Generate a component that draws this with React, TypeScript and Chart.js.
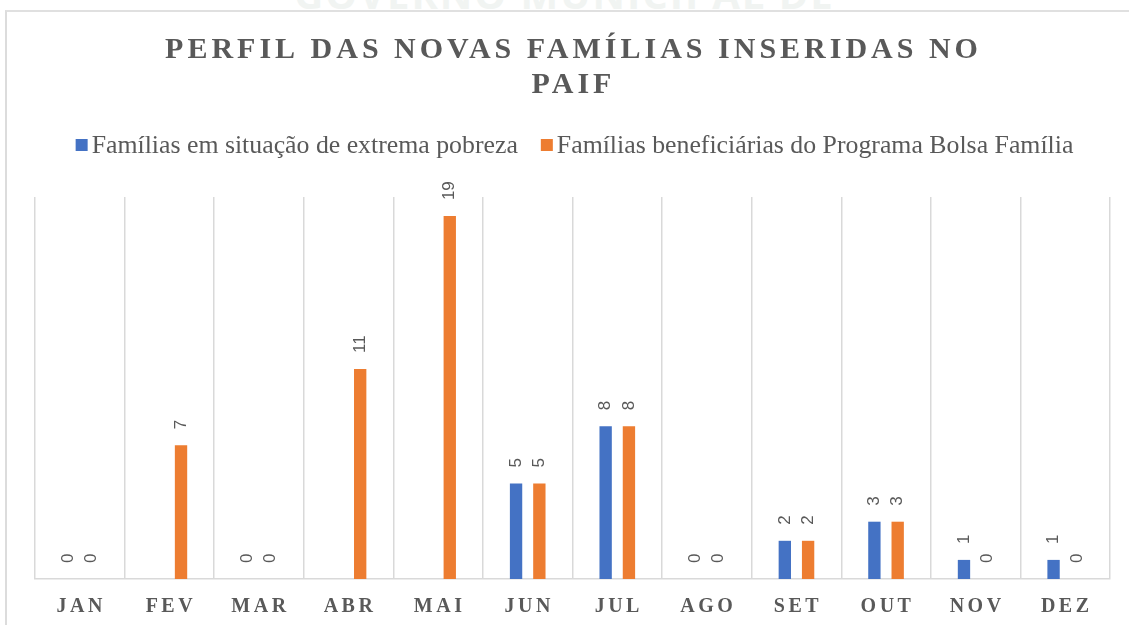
import React, { useEffect, useRef } from "react";
import { Chart, registerables } from "chart.js";

Chart.register(...registerables);

const months = ["JAN", "FEV", "MAR", "ABR", "MAI", "JUN", "JUL", "AGO", "SET", "OUT", "NOV", "DEZ"];
const extremePoverty: (number | null)[] = [0, null, 0, null, null, 5, 8, 0, 2, 3, 1, 1];
const bolsaFamilia: (number | null)[] = [0, 7, 0, 11, 19, 5, 8, 0, 2, 3, 0, 0];
const titleLines = ["PERFIL DAS NOVAS FAMÍLIAS INSERIDAS NO", "PAIF"];
const seriesNames = [
  "Famílias em situação de extrema pobreza",
  "Famílias beneficiárias do Programa Bolsa Família",
];
const seriesColors = ["#4472C4", "#ED7D31"];
const watermark = "GOVERNO MUNICIPAL DE";

const TEXT = "#595959";

const decorPlugin = {
  id: "decor",
  afterDraw(chart: any) {
    const { ctx, chartArea } = chart;
    const cx = (chartArea.left + chartArea.right) / 2;
    ctx.save();
    // Title
    ctx.fillStyle = TEXT;
    ctx.textAlign = "center";
    ctx.textBaseline = "alphabetic";
    ctx.font = 'bold 30px "Liberation Serif"';
    (ctx as any).letterSpacing = "4px";
    titleLines.forEach((t, i) => {
      ctx.fillText(t, cx + 1, 58 + i * 35);
    });
    // Legend
    (ctx as any).letterSpacing = "0px";
    ctx.font = '25.8px "Liberation Serif"';
    const box = 12;
    const gap = 4;
    const itemGap = 23;
    const widths = seriesNames.map((n) => ctx.measureText(n).width);
    const total =
      widths.reduce((a, w) => a + box + gap + w, 0) + itemGap * (seriesNames.length - 1);
    let x = cx - total / 2 + 2;
    ctx.textAlign = "left";
    ctx.textBaseline = "middle";
    seriesNames.forEach((n, i) => {
      ctx.fillStyle = seriesColors[i];
      ctx.fillRect(x, 139, box, box);
      ctx.fillStyle = TEXT;
      ctx.fillText(n, x + box + gap, 146);
      x += box + gap + widths[i] + itemGap;
    });
    // X labels
    const xs = chart.scales.x;
    ctx.font = 'bold 20px "Liberation Serif"';
    (ctx as any).letterSpacing = "3.5px";
    ctx.textAlign = "center";
    ctx.textBaseline = "alphabetic";
    ctx.fillStyle = TEXT;
    months.forEach((m, i) => {
      ctx.fillText(m, xs.getPixelForValue(i) + 1.5, 612);
    });
    // Data labels
    (ctx as any).letterSpacing = "0px";
    ctx.font = '17px "Liberation Sans"';
    ctx.fillStyle = TEXT;
    chart.data.datasets.forEach((ds: any, di: number) => {
      const meta = chart.getDatasetMeta(di);
      meta.data.forEach((bar: any, i: number) => {
        const v = ds.data[i];
        if (v === null || v === undefined) return;
        ctx.save();
        ctx.translate(bar.x, bar.y - 16);
        ctx.rotate(-Math.PI / 2);
        ctx.textAlign = "left";
        ctx.textBaseline = "middle";
        ctx.fillText(String(v), 0, 0);
        ctx.restore();
      });
    });
    ctx.restore();
  },
};

export default function App() {
  const canvasRef = useRef<HTMLCanvasElement | null>(null);

  useEffect(() => {
    if (!canvasRef.current) return;
    const chart = new Chart(canvasRef.current, {
      type: "bar",
      data: {
        labels: months,
        datasets: [
          {
            label: seriesNames[0],
            data: extremePoverty,
            backgroundColor: seriesColors[0],
            categoryPercentage: 0.52,
            barPercentage: 0.53,
          },
          {
            label: seriesNames[1],
            data: bolsaFamilia,
            backgroundColor: seriesColors[1],
            categoryPercentage: 0.52,
            barPercentage: 0.53,
          },
        ],
      },
      options: {
        responsive: false,
        animation: false,
        layout: { padding: { top: 197, bottom: 46, left: 35, right: 19 } },
        plugins: {
          legend: { display: false },
          title: { display: false },
          tooltip: { enabled: false },
        },
        scales: {
          x: {
            offset: true,
            grid: {
              display: true,
              offset: true,
              color: "#d9d9d9",
              lineWidth: 1.5,
              drawTicks: false,
            },
            border: { display: true, color: "#d9d9d9", width: 1.5 },
            ticks: { display: false },
          },
          y: {
            display: false,
            min: 0,
            max: 20,
          },
        },
      },
      plugins: [decorPlugin],
    });
    return () => chart.destroy();
  }, []);

  return (
    <div
      style={{
        position: "fixed",
        left: 0,
        top: 0,
        width: 1129,
        height: 625,
        background: "#ffffff",
        overflow: "hidden",
      }}
    >
      <div
        style={{
          position: "absolute",
          left: 0,
          width: 1129,
          top: -34,
          textAlign: "center",
          font: 'bold 40px "Open Sans"',
          color: "#f1f4f2",
          letterSpacing: 2,
          whiteSpace: "nowrap",
        }}
      >
        {watermark}
      </div>
      <canvas
        ref={canvasRef}
        width={1129}
        height={625}
        style={{ position: "absolute", left: 0, top: 0, width: 1129, height: 625 }}
      />
      <div
        style={{
          position: "absolute",
          left: 5,
          top: 10,
          width: 1130,
          height: 620,
          borderLeft: "2px solid #dcdcdc",
          borderTop: "2px solid #e0e0e0",
          pointerEvents: "none",
        }}
      />
    </div>
  );
}
